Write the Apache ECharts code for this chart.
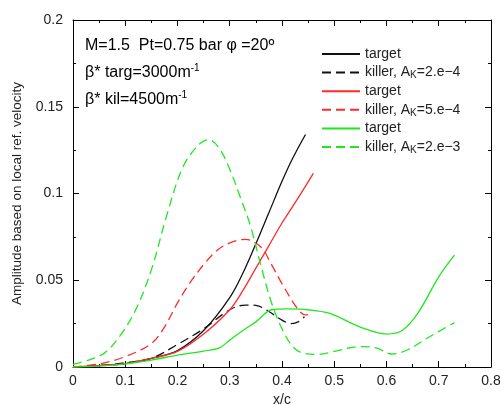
<!DOCTYPE html>
<html><head><meta charset="utf-8">
<script src="https://cdn.jsdelivr.net/npm/echarts@6/dist/echarts.min.js"></script>
<style>html,body{margin:0;padding:0;background:#fff}#c{width:502px;height:405px}</style>
</head><body><div id="c"></div>
<script>
// ---- data ----
const xTicks = [0, 0.1, 0.2, 0.3, 0.4, 0.5, 0.6, 0.7, 0.8];
const yTicks = [0, 0.05, 0.1, 0.15, 0.2];

const blackTargetX = [0, 0.05, 0.1, 0.15, 0.2, 0.25, 0.3, 0.325, 0.35, 0.375, 0.4, 0.42, 0.445];
const blackTargetY = [0, 0.0008, 0.002, 0.005, 0.0095, 0.021, 0.04, 0.054, 0.071, 0.089, 0.107, 0.12, 0.134];

const blackKillerX = [0, 0.05, 0.1, 0.15, 0.2, 0.25, 0.3, 0.33, 0.35, 0.375, 0.4, 0.418, 0.431, 0.443];
const blackKillerY = [0, 0.0008, 0.0025, 0.005, 0.013, 0.022, 0.033, 0.0357, 0.0355, 0.032, 0.027, 0.025, 0.026, 0.029];

const redTargetX = [0, 0.05, 0.1, 0.15, 0.2, 0.25, 0.3, 0.325, 0.35, 0.375, 0.4, 0.43, 0.46];
const redTargetY = [0, 0.0008, 0.002, 0.005, 0.009, 0.019, 0.033, 0.044, 0.057, 0.07, 0.083, 0.097, 0.1116];

const redKillerX = [0, 0.05, 0.1, 0.15, 0.175, 0.2, 0.225, 0.25, 0.275, 0.3, 0.33, 0.36, 0.38, 0.4, 0.43, 0.445, 0.46];
const redKillerY = [0, 0.0018, 0.006, 0.0135, 0.023, 0.037, 0.049, 0.059, 0.067, 0.0715, 0.0736, 0.069, 0.059, 0.048, 0.0335, 0.030, 0.031];

const greenTargetX = [0, 0.05, 0.1, 0.15, 0.2, 0.25, 0.28, 0.3, 0.33, 0.35, 0.38, 0.41, 0.45, 0.49, 0.55, 0.6, 0.63, 0.66, 0.7, 0.73];
const greenTargetY = [0, 0.0005, 0.0018, 0.004, 0.0068, 0.0092, 0.011, 0.0155, 0.022, 0.026, 0.033, 0.0335, 0.033, 0.031, 0.023, 0.019, 0.021, 0.031, 0.052, 0.0645];

const greenKillerX = [0, 0.03, 0.06, 0.09, 0.12, 0.15, 0.18, 0.21, 0.24, 0.26, 0.28, 0.3, 0.32, 0.34, 0.36, 0.38, 0.4, 0.42, 0.44, 0.47, 0.5, 0.55, 0.58, 0.61, 0.64, 0.68, 0.73];
const greenKillerY = [0.0015, 0.004, 0.008, 0.018, 0.033, 0.056, 0.088, 0.115, 0.128, 0.131, 0.126, 0.114, 0.098, 0.081, 0.058, 0.037, 0.022, 0.012, 0.008, 0.0073, 0.009, 0.0117, 0.011, 0.0075, 0.0098, 0.017, 0.0256];

const seriesNames = ['t1', 'k1', 't2', 'k2', 't3', 'k3'];
const legendLabels = {
  t1: 'target', k1: 'killer, A{sub|K}=2.e\u22124',
  t2: 'target', k2: 'killer, A{sub|K}=5.e\u22124',
  t3: 'target', k3: 'killer, A{sub|K}=2.e\u22123'
};
const annotations = ['M=1.5  Pt=0.75 bar \u03c6 =20\u00ba', '\u03b2* targ=3000m{sup|-1}', '\u03b2* kil=4500m{sup|-1}'];

// ---- chart ----
const zip = (xs, ys) => xs.map((x, i) => [x, ys[i]]);
const FONT = 'Liberation Sans, Arial, sans-serif';
function mk(name, xs, ys, color, dashed) {
  return {
    name, type: 'line', xAxisIndex: 0, yAxisIndex: 0,
    data: zip(xs, ys), symbol: 'none', showSymbol: false, smooth: 0.35,
    itemStyle: { color },
    lineStyle: { color, width: 1.3, type: dashed ? [9, 5] : 'solid' },
    z: 3
  };
}
const axisCommon = {
  axisLine: { show: true, onZero: false, lineStyle: { color: '#000', width: 1 } },
  axisTick: { show: true, inside: true, length: 6, lineStyle: { color: '#000' } },
  minorTick: { show: true, splitNumber: 2, length: 3, lineStyle: { color: '#000' } },
  splitLine: { show: false }
};
const chart = echarts.init(document.getElementById('c'));
chart.setOption({
  animation: false,
  backgroundColor: '#fff',
  grid: { left: 73, right: 11, top: 20, bottom: 38, containLabel: false, outerBoundsMode: 'none' },
  xAxis: [
    Object.assign({ type: 'value', position: 'bottom', min: xTicks[0], max: xTicks[xTicks.length - 1], interval: 0.1,
      name: 'x/c', nameLocation: 'middle', nameGap: 21,
      nameTextStyle: { fontSize: 14, color: '#222', fontFamily: FONT },
      axisLabel: { fontSize: 14, color: '#222', margin: 7, fontFamily: FONT } }, axisCommon),
    Object.assign({ type: 'value', position: 'top', min: xTicks[0], max: xTicks[xTicks.length - 1], interval: 0.1,
      axisLabel: { show: false } }, axisCommon)
  ],
  yAxis: [
    Object.assign({ type: 'value', position: 'left', min: yTicks[0], max: yTicks[yTicks.length - 1], interval: 0.05,
      name: 'Amplitude based on local ref. velocity', nameLocation: 'middle', nameGap: 49,
      nameTextStyle: { fontSize: 13.5, color: '#222', fontFamily: FONT },
      axisLabel: { fontSize: 14, color: '#222', margin: 10, fontFamily: FONT } }, axisCommon),
    Object.assign({ type: 'value', position: 'right', min: yTicks[0], max: yTicks[yTicks.length - 1], interval: 0.05,
      axisLabel: { show: false } }, axisCommon)
  ],
  legend: {
    orient: 'vertical', left: 316, top: 41, itemWidth: 38, itemHeight: 12, itemGap: 2.6,
    data: seriesNames,
    itemStyle: { opacity: 0, borderWidth: 0 },
    formatter: n => legendLabels[n],
    textStyle: { fontSize: 14, lineHeight: 16, color: '#222', fontFamily: FONT,
      rich: { sub: { fontSize: 10, lineHeight: 16, verticalAlign: 'bottom', color: '#222', fontFamily: FONT, padding: [6, 0, 0, 0] } } }
  },
  graphic: annotations.map((t, i) => ({
    type: 'text', left: 85, top: 36 + i * 27,
    style: { text: t, fill: '#000', fontSize: 16, fontFamily: FONT, lineHeight: 19,
      rich: { sup: { fontSize: 10, verticalAlign: 'top', lineHeight: 19, fill: '#000', fontFamily: FONT } } }
  })),
  series: [
    mk('t1', blackTargetX, blackTargetY, '#111', false),
    mk('k1', blackKillerX, blackKillerY, '#111', true),
    mk('t2', redTargetX, redTargetY, '#ff2a2a', false),
    mk('k2', redKillerX, redKillerY, '#ff2a2a', true),
    mk('t3', greenTargetX, greenTargetY, '#1ee81e', false),
    mk('k3', greenKillerX, greenKillerY, '#1ee81e', true)
  ]
});
</script></body></html>
